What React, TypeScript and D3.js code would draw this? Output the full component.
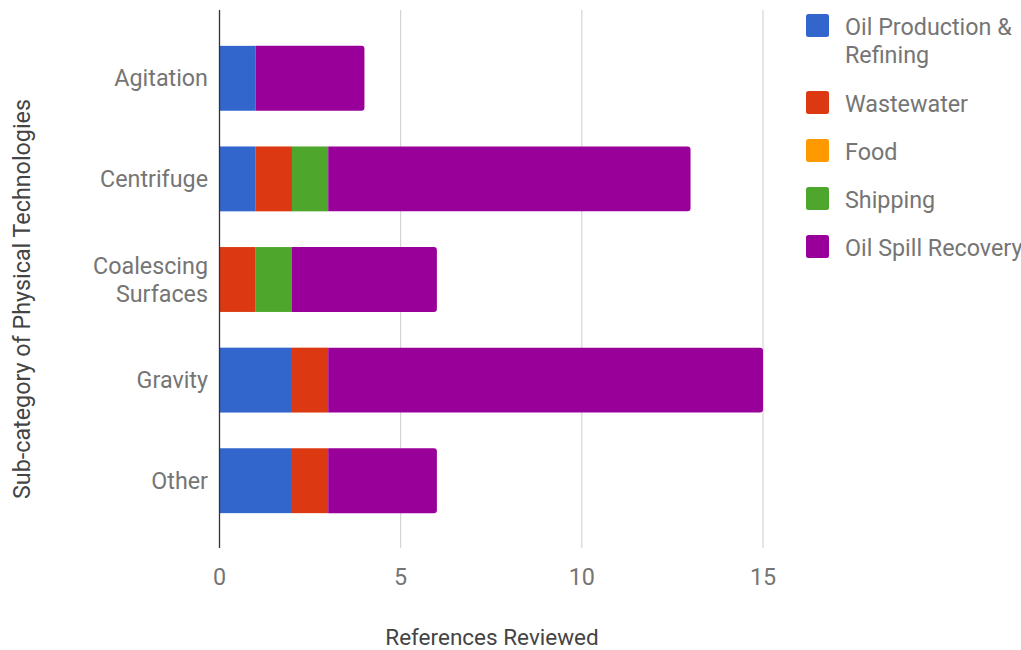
import React from "react";
import * as d3 from "d3";

const categories = ["Agitation", "Centrifuge", "Coalescing\nSurfaces", "Gravity", "Other"];
const seriesNames = ["Oil Production & Refining", "Wastewater", "Food", "Shipping", "Oil Spill Recovery"];
const oilProduction = [1, 1, 0, 2, 2];
const wastewater = [0, 1, 1, 1, 1];
const food = [0, 0, 0, 0, 0];
const shipping = [0, 1, 1, 0, 0];
const oilSpill = [3, 10, 4, 12, 3];
const xTicks = [0, 5, 10, 15];
const colors = ["#3366cc", "#dc3912", "#ff9900", "#4ea72c", "#990099"];

const W = 1021, H = 650;
const FONT = "Roboto, 'Noto Sans', sans-serif";
const FS = 23.3;

export default function App() {
  const x = d3.scaleLinear().domain([0, 15]).range([219.5, 763]);
  const y = d3.scaleBand<string>().domain(categories).range([28, 531]).paddingInner(0.355).paddingOuter(0.1775);
  const data = categories.map((c, i) => ({
    cat: c,
    v0: oilProduction[i], v1: wastewater[i], v2: food[i], v3: shipping[i], v4: oilSpill[i],
  }));
  const stack = d3.stack<any>().keys(["v0", "v1", "v2", "v3", "v4"]);
  const stacked = stack(data);
  const plotTop = 10, plotBottom = 548;

  const legendRows = [
    { lines: ["Oil Production &", "Refining"], y: 25 },
    { lines: ["Wastewater"], y: 102 },
    { lines: ["Food"], y: 150 },
    { lines: ["Shipping"], y: 198 },
    { lines: ["Oil Spill Recovery"], y: 246 },
  ];

  const roundRight = (x0: number, y0: number, w: number, h: number, r: number) => {
    const rr = Math.min(r, w, h / 2);
    return `M${x0},${y0}H${x0 + w - rr}Q${x0 + w},${y0} ${x0 + w},${y0 + rr}V${y0 + h - rr}Q${x0 + w},${y0 + h} ${x0 + w - rr},${y0 + h}H${x0}Z`;
  };

  return (
    <svg width={W} height={H} style={{ position: "absolute", left: 0, top: 0, background: "#fff" }} fontFamily={FONT}>
      {xTicks.slice(1).map((t) => (
        <line key={t} x1={x(t)} x2={x(t)} y1={plotTop} y2={plotBottom} stroke="#cccccc" strokeWidth={1} />
      ))}
      {stacked.map((layer, si) =>
        layer.map((d, ci) => {
          const w = x(d[1]) - x(d[0]);
          if (w <= 0) return null;
          const yy = y(categories[ci])!;
          const h = y.bandwidth();
          const isLast = si === 4;
          return isLast ? (
            <path key={`${si}-${ci}`} d={roundRight(x(d[0]), yy, w, h, 3)} fill={colors[si]} />
          ) : (
            <rect key={`${si}-${ci}`} x={x(d[0])} y={yy} width={w} height={h} fill={colors[si]} />
          );
        })
      )}
      <line x1={219.5} x2={219.5} y1={plotTop} y2={plotBottom} stroke="#333333" strokeWidth={1.3} />
      {xTicks.map((t) => (
        <text key={t} x={x(t)} y={585} textAnchor="middle" fontSize={FS} fill="#757575">{t}</text>
      ))}
      {categories.map((c) => {
        const lines = c.split("\n");
        const cy = y(c)! + y.bandwidth() / 2;
        return (
          <text key={c} textAnchor="end" fontSize={FS} fill="#757575">
            {lines.map((l, i) => (
              <tspan key={i} x={208} y={cy + 8 + (i - (lines.length - 1) / 2) * 28}>{l}</tspan>
            ))}
          </text>
        );
      })}
      <text x={492} y={645} textAnchor="middle" fontSize={22.5} fill="#444444">References Reviewed</text>
      <text transform={`translate(30,299) rotate(-90)`} textAnchor="middle" fontSize={FS} fill="#444444">
        Sub-category of Physical Technologies
      </text>
      {legendRows.map((r, i) => (
        <g key={i}>
          <rect x={806} y={r.y - 11} width={23} height={23} rx={2.5} fill={colors[i]} />
          <text fontSize={FS} fill="#757575">
            {r.lines.map((l, j) => (
              <tspan key={j} x={845} y={r.y + 9.5 + j * 28}>{l}</tspan>
            ))}
          </text>
        </g>
      ))}
    </svg>
  );
}
